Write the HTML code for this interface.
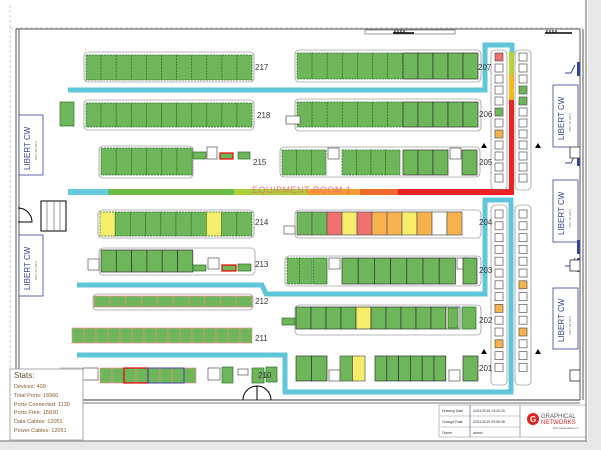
<!DOCTYPE html>
<html><head><meta charset="utf-8"><style>
html,body{margin:0;padding:0;background:#fff;}
svg{display:block;font-family:"Liberation Sans",sans-serif;}
</style></head><body>
<svg id="s" width="601" height="450" viewBox="0 0 601 450" xmlns="http://www.w3.org/2000/svg">
<rect width="601" height="450" fill="#fff"/>
<rect x="588" y="0" width="13" height="450" fill="#e8e8e8"/>
<rect x="0" y="442" width="601" height="8" fill="#e8e8e8"/>
<line x1="586" y1="0" x2="586" y2="442" stroke="#999" stroke-width="1.5"/>
<line x1="0" y1="441" x2="587" y2="441" stroke="#999" stroke-width="1.5"/>
<line x1="10" y1="5" x2="10" y2="440" stroke="#ccc" stroke-dasharray="3,2"/>
<line x1="10" y1="28" x2="585" y2="28" stroke="#ccc" stroke-dasharray="3,2"/>
<line x1="16" y1="29" x2="16" y2="400" stroke="#555"/>
<line x1="19" y1="29" x2="19" y2="400" stroke="#555"/>
<line x1="16" y1="29" x2="580" y2="29" stroke="#555"/>
<line x1="580" y1="29" x2="580" y2="400" stroke="#555"/>
<line x1="583" y1="29" x2="583" y2="400" stroke="#555"/>
<line x1="19" y1="400" x2="580" y2="400" stroke="#333"/>
<line x1="19" y1="403" x2="580" y2="403" stroke="#777"/>
<rect x="365" y="30" width="90" height="4" fill="none" stroke="#555" stroke-width="0.6"/>
<path d="M395 30v3M398 30v3M401 30v3M404 30v3M547 30v3M550 30v3M553 30v3M556 30v3" stroke="#000"/>
<line x1="393" y1="33" x2="414" y2="33" stroke="#000" stroke-width="1.5"/>
<line x1="545" y1="33" x2="572" y2="33" stroke="#000" stroke-width="1.5"/>
<rect x="41" y="201" width="25" height="30" fill="none" stroke="#000"/>
<path d="M47 201v30M54 201v30M60 201v30" stroke="#555" stroke-width="0.6"/>
<path d="M18 208 a14 14 0 0 1 14 14 L18 222" fill="none" stroke="#000"/>
<g fill="#fff" stroke="#334499" stroke-width="0.8">
<rect x="19" y="115" width="24" height="60"/>
<rect x="19" y="235" width="24" height="61"/>
<rect x="553" y="85" width="25" height="62"/>
<rect x="553" y="180" width="25" height="62"/>
<rect x="553" y="288" width="25" height="61"/>
</g>
<g fill="#334499" font-size="8">
<text transform="translate(30,170) rotate(-90)">LIBERT CW</text>
<text transform="translate(30,290) rotate(-90)">LIBERT CW</text>
<text transform="translate(564,140) rotate(-90)">LIBERT CW</text>
<text transform="translate(564,235) rotate(-90)">LIBERT CW</text>
<text transform="translate(564,342) rotate(-90)">LIBERT CW</text>
</g>
<g fill="#667" font-size="3">
<text transform="translate(37,160) rotate(-90)">UNIT 09 (307)</text>
<text transform="translate(37,280) rotate(-90)">UNIT 01 (307)</text>
<text transform="translate(571,132) rotate(-90)">UNIT 02 (307)</text>
<text transform="translate(571,228) rotate(-90)">UNIT 03 (307)</text>
<text transform="translate(571,335) rotate(-90)">UNIT 04 (307)</text>
</g>
<path d="M575 65 l-4 8 h-6 M575 155 l-4 8 h-6 M575 258 l-4 8 h-6" stroke="#334499" fill="none"/>
<rect x="577" y="62" width="3" height="14" fill="#334499"/>
<rect x="577" y="152" width="3" height="14" fill="#334499"/>
<rect x="577" y="240" width="3" height="14" fill="#334499"/>
<rect x="577" y="258" width="3" height="14" fill="#334499"/>
<rect x="570" y="147" width="10" height="11" fill="#fff" stroke="#555"/>
<rect x="570" y="260" width="10" height="11" fill="#fff" stroke="#555"/>
<rect x="570" y="370" width="10" height="11" fill="#fff" stroke="#555"/>
<g fill="none" stroke="#5fc6da" stroke-width="5">
<path d="M68 90 H485 V45 H512 V55"/>
<path d="M77 285 H262 L266 294 H485 V200 H511 V392 H285 V355 H77"/>
</g>
<rect x="68" y="189" width="40" height="6" fill="#66c8dc"/>
<rect x="108" y="189" width="126" height="6" fill="#6cbd45"/>
<rect x="234" y="189" width="73" height="6" fill="#a8cf3a"/>
<rect x="307" y="189" width="53" height="6" fill="#f39a30"/>
<rect x="360" y="189" width="38" height="6" fill="#ee6a2a"/>
<rect x="398" y="189" width="116" height="6" fill="#ee2222"/>
<rect x="509" y="52" width="5" height="23" fill="#b5d335"/>
<rect x="509" y="75" width="5" height="25" fill="#f4b81c"/>
<rect x="509" y="100" width="5" height="95" fill="#ee2222"/>
<text x="252" y="193" font-size="9" fill="#f07070" letter-spacing="0.5">EQUIPMENT ROOM 1</text>
<g id="racks"></g>
<g font-size="8" fill="#333">
<text x="255" y="70">217</text><text x="257" y="118">218</text><text x="253" y="165">215</text>
<text x="255" y="225">214</text><text x="255" y="267">213</text><text x="255" y="304">212</text>
<text x="255" y="341">211</text><text x="258" y="378">210</text>
<text x="478" y="70">207</text><text x="479" y="117">206</text><text x="479" y="165">205</text>
<text x="479" y="225">204</text><text x="479" y="273">203</text><text x="479" y="323">202</text>
<text x="479" y="371">201</text>
</g>
<g fill="#000"><path d="M481 148l3-5 3 5z"/><path d="M535 148l3-5 3 5z"/><path d="M481 354l3-5 3 5z"/><path d="M535 354l3-5 3 5z"/></g>
<path d="M243 400 a14 14 0 0 1 14 -14 L257 400 M257 386 a14 14 0 0 1 14 14" fill="none" stroke="#000"/>
<g stroke="#999" stroke-width="0.6" fill="none">
<rect x="439" y="405" width="81" height="32"/>
<line x1="439" y1="416" x2="520" y2="416"/><line x1="439" y1="427" x2="520" y2="427"/>
<line x1="470" y1="405" x2="470" y2="437" stroke="#447"/>
<rect x="520" y="405" width="66" height="32"/>
</g>
<g font-size="3.5" fill="#333">
<text x="442" y="412">Drawing Date</text><text x="473" y="412">02/11/2015 13:42:20</text>
<text x="442" y="423">Change Date</text><text x="473" y="423">02/11/2015 09:55:38</text>
<text x="442" y="434">Owner</text><text x="473" y="434">admin</text>
</g>
<circle cx="533" cy="419" r="6" fill="#e02222"/>
<text x="530" y="422" font-size="8" fill="#fff" font-weight="bold">G</text>
<text x="541" y="418" font-size="6" fill="#555">GRAPHICAL</text>
<text x="541" y="424" font-size="6" fill="#e02222">NETWORKS</text>
<text x="553" y="429" font-size="3" fill="#555">Get visual about IT.</text>
<rect x="10" y="369" width="73" height="71" fill="#fff" stroke="#aaa"/>
<g fill="#8a5a2a" font-size="5.5">
<text x="14" y="378" font-size="8" fill="#6a4a2a">Stats:</text>
<text x="14" y="388">Devices: 400</text>
<text x="14" y="397">Total Ports: 16960</text>
<text x="14" y="406">Ports Connected: 1130</text>
<text x="14" y="414">Ports Free: 15830</text>
<text x="14" y="423">Data Cables: 12051</text>
<text x="14" y="432">Power Cables: 12051</text>
</g>
</svg>
<script>
var g=document.getElementById('racks'),NS='http://www.w3.org/2000/svg';
function r(x,y,w,h,f,s,d,sw){var e=document.createElementNS(NS,'rect');e.setAttribute('x',x);e.setAttribute('y',y);e.setAttribute('width',w);e.setAttribute('height',h);e.setAttribute('fill',f||'#6db65a');e.setAttribute('stroke',s||'#2f6f2a');e.setAttribute('stroke-width',sw||0.7);if(d)e.setAttribute('stroke-dasharray','2,1');g.appendChild(e);}
var C={g:'#6db65a',y:'#f6ee6a',r:'#f07070',o:'#f7b24e',w:'#fff'};
function row(x,y,w,h,cols,dash,stroke){var n=cols.length;for(var i=0;i<n;i++){var c=cols[i];if(c==' ')continue;r(x+i*w,y,w,h,C[c],c=='w'?'#555':(stroke||'#2f6f2a'),dash);}}
function rep(c,n){return Array(n+1).join(c);}
function frame(x,y,w,h){var e=document.createElementNS(NS,'rect');e.setAttribute('x',x);e.setAttribute('y',y);e.setAttribute('width',w);e.setAttribute('height',h);e.setAttribute('rx',4);e.setAttribute('fill','none');e.setAttribute('stroke','#777');e.setAttribute('stroke-width',0.6);g.appendChild(e);}
frame(84,52,170,30);row(86,55,15.1,25,rep('g',11),1);
r(60,102,14,24);
frame(84,100,170,30);row(86,103,15.1,24,rep('g',11),1);
frame(99,146,94,32);row(101,148,15.2,27,rep('g',6),1);
r(193,152,13,7);r(207,147,10,12,'#fff','#555');r(220,153,13,6,C.g,'#e00',0,1.2);r(238,152,12,7);
frame(98,210,156,28);row(100,212,15.2,24,'yggggggygg',1);
frame(99,248,156,27);row(101,250,15.3,22,rep('g',6),0,'#333');
r(88,259,11,11,'#fff','#555');r(193,265,13,6);r(208,258,11,11,'#fff','#555');r(222,265,14,6,C.g,'#e00',0,1.2);r(238,264,13,7);
frame(93,294,160,16);row(94,296,15.8,11,rep('g',10),0,'#e88');
row(72,328,12,15,rep('g',15),0,'#e88');
r(60,368,20,16,'#fff','#aaa');r(82,368,16,12,'#fff','#555');
row(100,368,12,15,'gggggggg',0,'#e88');r(124,368,24,15,'none','#e00',0,1.2);r(148,368,36,15,'none','#44a',0,1);
r(208,368,12,12,'#fff','#555');r(222,367,11,16);r(238,369,10,6,'#fff','#555');r(252,368,12,15);r(266,367,11,15);
frame(295,50,186,32);row(297,53,15.1,26,'ggggggg',1);row(403,53,15,26,'ggggg',0,'#333');
frame(295,99,186,32);row(297,102,15.1,25,'ggggggg',1);row(403,102,15,25,'ggggg',0,'#333');
r(286,116,14,8,'#fff','#555');
frame(280,147,200,30);row(282,150,14.7,25,'ggg',1);r(328,148,11,11,'#fff','#555');row(342,150,14.5,25,'gggg',1);row(403,150,15,25,'ggg',0,'#333');r(450,148,11,11,'#fff','#555');r(462,150,15,25,C.g,'#333');
frame(295,210,186,28);row(297,212,15,23,'ggryrooyowo',0,'#555');
r(284,226,11,8,'#fff','#555');
frame(285,256,196,30);row(287,258,12.5,26,'gg',1);r(313,258,14,26);r(329,258,11,11,'#fff','#555');row(342,258,16.2,26,'ggggggg',0,'#333');r(457,258,12,11,'#fff','#555');r(463,258,14,26,C.g,'#333');
frame(295,305,186,30);row(296,307,15,22,'ggggyggggg',0,'#333');r(446,307,14,22,'#fff','#333');r(448,308,10,20);r(462,307,14,22);
r(282,318,13,7);
row(296,356,15.5,25,'gg',0,'#333');r(329,370,11,11,'#fff','#555');row(340,356,12.5,25,'gy',0,'#555');row(375,356,11.8,25,'gggggg',0,'#333');r(449,370,11,11,'#fff','#555');r(463,356,15,25,C.g,'#333');
function colorL(y){if(y<62)return C.r;if(y>=98&&y<110)return C.g;if(y>=129&&y<141)return C.o;if(y>=304&&y<316)return C.o;if(y>=332&&y<344)return C.o;return '#fff';}
function colorR(y){if(y>=86&&y<98)return C.g;if(y>=272&&y<284)return C.o;if(y>=318&&y<330)return C.o;return '#fff';}
for(var i=0;i<26;i++){var y=i<12?53+i*11:210+(i-12)*11.8;
r(495,y,8,8,colorL(y),'#555');r(519,y,8,8,colorR(y),'#555');}
frame(491,50,16,140);frame(515,50,16,140);frame(491,205,16,180);frame(515,205,16,180);
</script>
</body></html>
